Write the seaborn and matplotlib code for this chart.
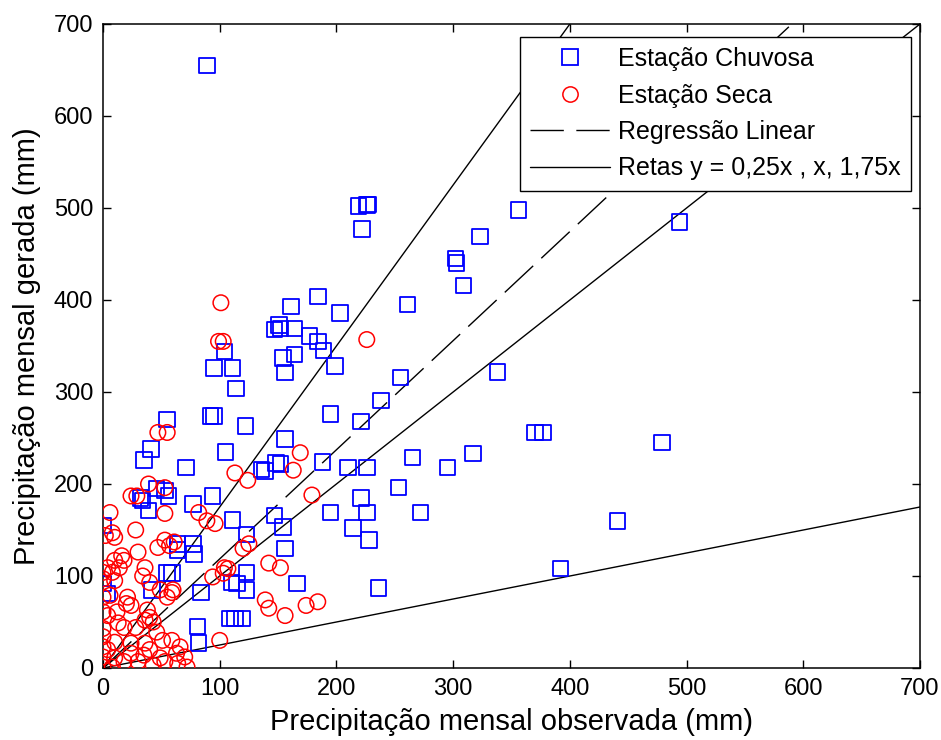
import numpy as np
import pandas as pd
import matplotlib
matplotlib.use("Agg")
import matplotlib.pyplot as plt
from matplotlib.lines import Line2D
import seaborn as sns

# Estação chuvosa (observada, gerada) in mm
chuvosa_obs = [89, 219, 226, 227, 222, 356, 323, 302, 303, 309, 261,
               184, 161, 203, 152, 164, 177, 184, 189, 164, 154, 156, 199, 255, 338,
               238, 195, 221, 156, 152, 188, 210, 226, 265, 295, 317,
               370, 377, 253, 221, 195, 226, 272, 214, 228, 154, 156, 166, 236,
               392, 441, 479, 494,
               104, 95, 111, 114, 147, 151,
               55, 92, 95, 122, 41, 35, 105, 71, 148, 136, 139, 46, 53, 56, 32, 34,
               94, 39, 77, 111, 123, 147, 0, 64, 77, 78, 64, 55, 59, 42, 0, 4, 84,
               110, 115, 123, 109, 113, 119, 81, 82, 123]
chuvosa_ger = [655, 502, 503, 504, 477, 498, 469, 445, 440, 416, 395,
               404, 393, 386, 369, 369, 361, 355, 345, 341, 337, 321, 328, 316, 322,
               291, 276, 268, 249, 222, 224, 218, 218, 229, 218, 233,
               256, 256, 196, 185, 169, 169, 169, 152, 139, 153, 130, 92, 87,
               108, 160, 245, 485,
               344, 326, 326, 304, 368, 373,
               270, 274, 274, 263, 238, 226, 235, 218, 223, 216, 214, 195, 193, 187, 185, 182,
               187, 171, 178, 161, 145, 166, 155, 135, 135, 124, 128, 103, 103, 85, 92, 81, 82,
               93, 92, 85, 54, 54, 54, 45, 27, 104]

# Estação seca (observada, gerada) in mm
seca_obs = [101, 99, 103, 226, 47, 55,
            169, 163, 113, 124, 179,
            89, 96, 82, 120, 125, 94, 104, 142, 152, 139, 142, 156, 174, 184, 100,
            39, 24, 29, 53, 6, 53,
            28, 2, 10, 8, 47, 53, 57, 30, 16, 10, 18, 14, 4, 36, 0,
            34, 40, 10, 0, 8,
            21, 20, 24, 6, 0, 59, 55, 49,
            12, 4, 0, 38, 40, 36, 43, 28, 18, 13,
            0, 0, 0, 4, 0, 46, 51,
            36, 40, 35, 24, 30, 18, 10,
            59, 66, 63, 70, 72, 64, 53, 43, 49,
            24, 10, 8, 0,
            61, 60, 107, 103]
seca_ger = [397, 355, 355, 357, 256, 256,
            234, 215, 212, 204, 188,
            160, 157, 169, 130, 135, 99, 109, 114, 109, 74, 65, 57, 68, 72, 30,
            200, 187, 187, 196, 169, 168,
            150, 144, 142, 147, 131, 139, 133, 126, 122, 117, 117, 109, 109, 109, 104,
            100, 93, 95, 97, 104,
            77, 70, 68, 79, 77, 82, 77, 85,
            61, 57, 61, 63, 55, 52, 50, 44, 44, 49,
            43, 34, 23, 20, 12, 39, 30,
            27, 20, 14, 16, 7, 7, 11,
            30, 23, 16, 12, 1, 5, 7, 3, 11,
            27, 28, 1, 1,
            137, 85, 108, 103]

# reference lines
retas = [0.25, 1.0, 1.75]
reg_slope = 1.186
reg_intercept = 0.0
x_range = [0, 700]

df_chuva = pd.DataFrame({"obs": chuvosa_obs, "ger": chuvosa_ger})
df_seca = pd.DataFrame({"obs": seca_obs, "ger": seca_ger})

sns.set_style("ticks")
plt.rcParams["font.family"] = ["Liberation Sans", "DejaVu Sans"]
plt.rcParams["text.color"] = "black"
plt.rcParams["axes.labelcolor"] = "black"

fig = plt.figure(figsize=(9.41, 7.40), dpi=100)
ax = fig.add_axes([103 / 941, 72 / 740, 817 / 941, 644 / 740])

sns.scatterplot(data=df_chuva, x="obs", y="ger", marker="s", s=125,
                facecolors="none", edgecolor="#0000ff", linewidth=1.3, ax=ax, zorder=3)
sns.scatterplot(data=df_seca, x="obs", y="ger", marker="o", s=125,
                facecolors="none", edgecolor="#ff0000", linewidth=1.1, ax=ax, zorder=3)

xs = np.array(x_range, dtype=float)
for k in retas:
    ax.plot(xs, k * xs, color="black", lw=1.0, zorder=2)
ax.plot(xs, reg_slope * xs + reg_intercept, color="black", lw=1.0,
        dashes=(28, 8), zorder=2)

ax.set_xlim(0, 700)
ax.set_ylim(0, 700)
ax.set_xticks(range(0, 701, 100))
ax.set_yticks(range(0, 701, 100))
ax.tick_params(direction="in", length=6, width=1.0, top=True, right=True,
               labelsize=17, colors="black", pad=7)
for sp in ax.spines.values():
    sp.set_visible(True)
    sp.set_linewidth(1.1)
    sp.set_color("black")

ax.set_xlabel("Precipitação mensal observada (mm)", fontsize=21, labelpad=6)
ax.set_ylabel("Precipitação mensal gerada (mm)", fontsize=21, labelpad=9)

handles = [
    Line2D([], [], marker="s", ls="none", markerfacecolor="none",
           markeredgecolor="#0000ff", markersize=11, markeredgewidth=1.3),
    Line2D([], [], marker="o", ls="none", markerfacecolor="none",
           markeredgecolor="#ff0000", markersize=11, markeredgewidth=1.1),
    Line2D([], [], color="black", lw=1.0, dashes=(24, 9)),
    Line2D([], [], color="black", lw=1.0),
]
labels = ["Estação Chuvosa", "Estação Seca", "Regressão Linear",
          "Retas y = 0,25x , x, 1,75x"]
leg = ax.legend(handles, labels, loc="upper right",
                bbox_to_anchor=((911 - 103) / 817, (668 - 37) / 644),
                borderaxespad=0, fontsize=18, frameon=True, fancybox=False,
                edgecolor="black", framealpha=1, handlelength=3.2,
                handletextpad=0.32, labelspacing=0.5, borderpad=0.4)
leg.get_frame().set_linewidth(1.0)
leg.set_zorder(5)

fig.savefig("out.png", dpi=100)
